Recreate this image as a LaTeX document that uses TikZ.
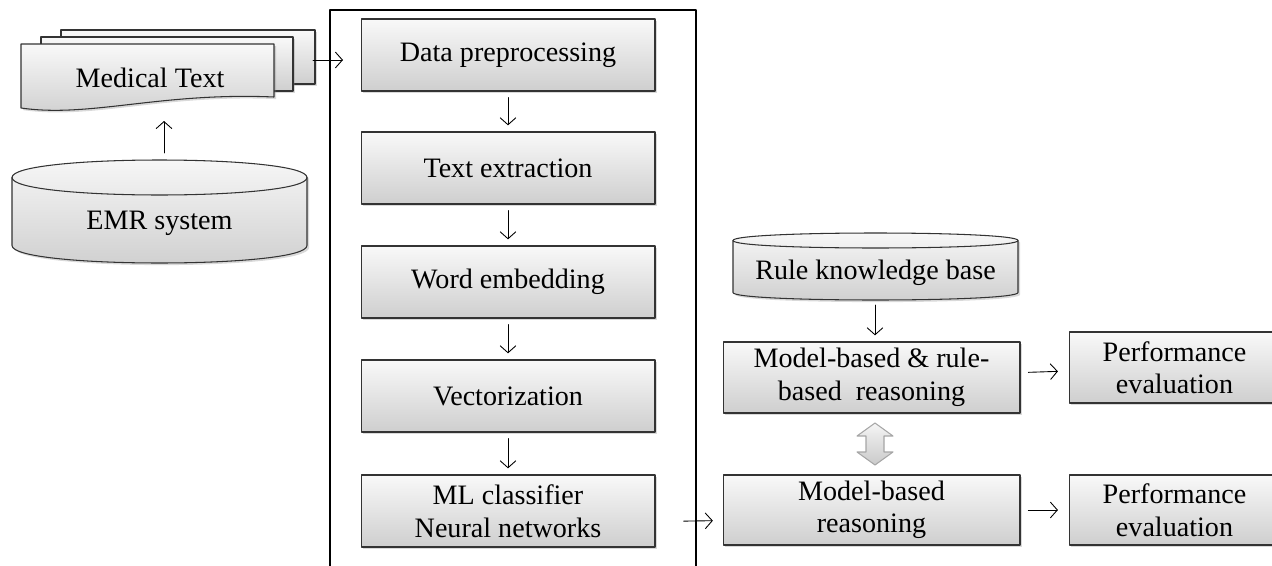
\documentclass[tikz,border=0pt]{standalone}
\usepackage{fontspec}
\setmainfont{Liberation Serif}
\usetikzlibrary{shadows,arrows.meta}

\tikzset{
  shade/.style={top color=gray!5, bottom color=gray!38},
  box/.style={draw=black!80, line width=0.6pt, shade, align=center, inner sep=2pt,
    minimum width=5.88cm, minimum height=1.44cm,
    drop shadow={shadow xshift=1.2pt, shadow yshift=-1.2pt, opacity=0.3}},
  page/.style={draw=black!80, line width=0.6pt, shade,
    drop shadow={shadow xshift=1.2pt, shadow yshift=-1.2pt, opacity=0.3}},
  flow/.style={->, shorten >=3.5pt, shorten <=3.5pt},
}
% drum: left, top, right, bottom, half height of the end ellipse
\newcommand{\drum}[5]{%
  \draw[page] (#1,{#2+#5}) -- (#1,{#4-#5})
    .. controls (#1,{#4+0.333*#5}) and (#3,{#4+0.333*#5}) .. (#3,{#4-#5})
    -- (#3,{#2+#5}) .. controls (#3,{#2-0.333*#5}) and (#1,{#2-0.333*#5}) .. cycle;
  \draw[line width=0.6pt, draw=black!80] (#1,{#2+#5})
    .. controls (#1,{#2+2.333*#5}) and (#3,{#2+2.333*#5}) .. (#3,{#2+#5});}

\begin{document}
\begin{tikzpicture}[x=0.02cm, y=-0.02cm, font=\fontsize{16}{18.5}\selectfont, line join=round, line cap=round, >={Straight Barb[length=4pt,width=9pt]}, line width=0.5pt]
	\useasboundingbox (0,0) rectangle (1272,565);
	% frame round the pipeline
	\draw[line width=0.6pt] (330,10) rectangle (696,590);
	% stack of medical documents
	\draw[page] (61,30) rectangle (315,84);
	\draw[page] (41,37) rectangle (293,91);
	\draw[page] (21,44) -- (274,44) -- (274,97) .. controls (160,92) and (90,118) .. (21,108) -- cycle;
	\node (medtext) at (150,78) {Medical Text};
	\coordinate (mtout) at (313,60);
	\coordinate (mtin) at (343,60);
	\coordinate (mtbot) at (164,121);
	% data bases
	\drum{12}{160}{307}{263}{17.5}
	\node (emr) at (159.5,223) {EMR system};
	\coordinate (emrtop) at (164,153);
	\drum{733}{233}{1018}{300}{7.5}
	\node (rulekb) at (875.5,273) {Rule knowledge base};
	\coordinate (kbout) at (875,305);
	% pipeline
	\node[box] (prep) at (508,55) {Data preprocessing};
	\node[box] (extr) at (508,168) {Text extraction};
	\node[box] (embed) at (508,282) {Word embedding};
	\node[box] (vect) at (508,396) {Vectorization};
	\node[box] (ml) at (508,511) {ML classifier\\Neural networks};
	% reasoning
	\node[box, minimum width=5.94cm, minimum height=1.42cm] (mbrr) at (871.5,377.5) {Model-based \& rule-\\based\ \ reasoning};
	\node[box, minimum width=5.94cm, minimum height=1.4cm] (mbr) at (871.5,510) {Model-based\\reasoning};
	\coordinate (swap) at (875,444);
	\draw[shift={(swap)}, draw=gray!70, line width=0.6pt, top color=gray!8, bottom color=gray!42]
	  (0,-21) -- (18,-8) -- (9,-8) -- (9,8) -- (18,8) -- (0,21) -- (-18,8) -- (-9,8) -- (-9,-8) -- (-18,-8) -- cycle;
	\node[box, minimum width=4.22cm, minimum height=1.42cm] (perfa) at (1174.5,367.5) {Performance\\evaluation};
	\node[box, minimum width=4.22cm, minimum height=1.4cm] (perfb) at (1174.5,510) {Performance\\evaluation};
	% connectors
	\draw[->] (mtout) -- (mtin);
	\draw[->] (emrtop) -- (mtbot);
	\draw[flow] (prep) -- (extr);
	\draw[flow] (extr) -- (embed);
	\draw[flow] (embed) -- (vect);
	\draw[flow] (vect) -- (ml);
	\draw[->, shorten >=3.5pt] (kbout) -- (kbout |- mbrr.north);
	\draw[->, shorten <=4.5pt, shorten >=6pt] (mbrr) -- (perfa);
	\draw[->, shorten <=4.5pt, shorten >=6pt] (mbr) -- (perfb);
	\draw[->, shorten <=16pt, shorten >=5.5pt] ([yshift=-6pt]ml.east) -- ([yshift=-6pt]mbr.west);
\end{tikzpicture}
\end{document}
